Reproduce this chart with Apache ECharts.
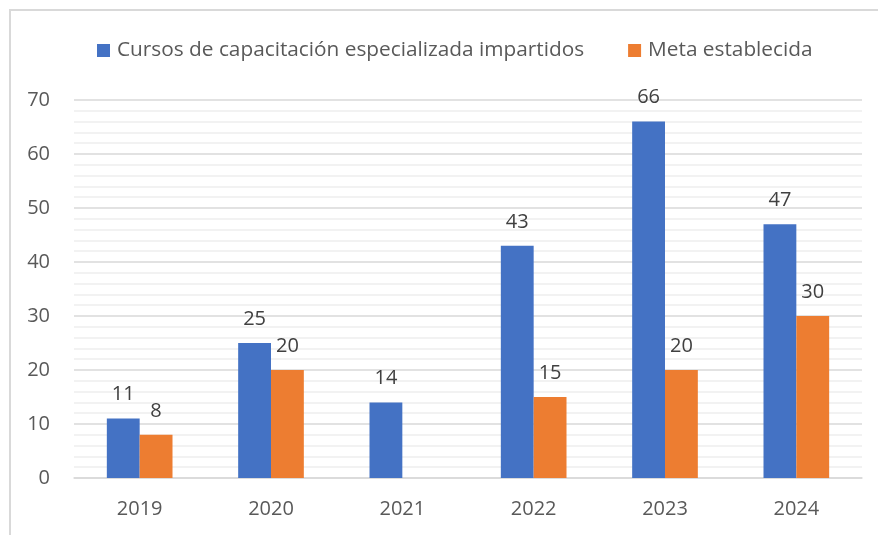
<!DOCTYPE html>
<html><head><meta charset="utf-8">
<script src="https://cdn.jsdelivr.net/npm/echarts@6/dist/echarts.min.js"></script>
<style>html,body{margin:0;padding:0;background:#fff}#c{width:878px;height:535px}</style>
</head><body><div id="c"></div>
<script>
const categories = ['2019','2020','2021','2022','2023','2024'];
const seriesNames = ['Cursos de capacitación especializada impartidos','Meta establecida'];
const cursos = [11,25,14,43,66,47];
const meta = [8,20,null,15,20,30];
const yTicks = [0,10,20,30,40,50,60,70];

const FONT = 'Open Sans';
const chart = echarts.init(document.getElementById('c'), null, {renderer:'canvas'});
chart.setOption({
  animation:false,
  textStyle:{fontFamily:FONT},
  graphic:[{type:'rect',shape:{x:10,y:10,width:900,height:600},style:{fill:'none',stroke:'#d9d9d9',lineWidth:2},silent:true}],
  legend:{
    left:92, top:35, itemWidth:13, itemHeight:13, itemGap:44,
    icon:'rect',
    textStyle:{fontFamily:FONT,fontSize:20.8,color:'#595959',padding:[0,0,0,2]},
    data:seriesNames
  },
  grid:{left:74,right:16,top:100,bottom:57},
  xAxis:{
    type:'category',data:categories,
    axisLine:{lineStyle:{color:'#d9d9d9',width:1.5}},
    axisTick:{show:false},
    axisLabel:{color:'#595959',fontSize:20,margin:21,fontFamily:FONT}
  },
  yAxis:{
    type:'value',min:yTicks[0],max:yTicks[yTicks.length-1],interval:10,
    axisLine:{show:false},axisTick:{show:false},
    axisLabel:{color:'#595959',fontSize:20,margin:24,fontFamily:FONT},
    splitLine:{lineStyle:{color:'#d9d9d9',width:1.5}},
    minorTick:{show:false,splitNumber:5},
    minorSplitLine:{show:true,lineStyle:{color:'#eeeeee',width:1.5}}
  },
  series:[
    {name:seriesNames[0],type:'bar',data:cursos,barGap:'0%',barCategoryGap:'50%',
     itemStyle:{color:'#4472c4'},
     label:{show:true,position:'top',distance:14,fontSize:20,color:'#404040',fontFamily:FONT}},
    {name:seriesNames[1],type:'bar',data:meta,
     itemStyle:{color:'#ed7d31'},
     label:{show:true,position:'top',distance:14,fontSize:20,color:'#404040',fontFamily:FONT}}
  ]
});
</script></body></html>
